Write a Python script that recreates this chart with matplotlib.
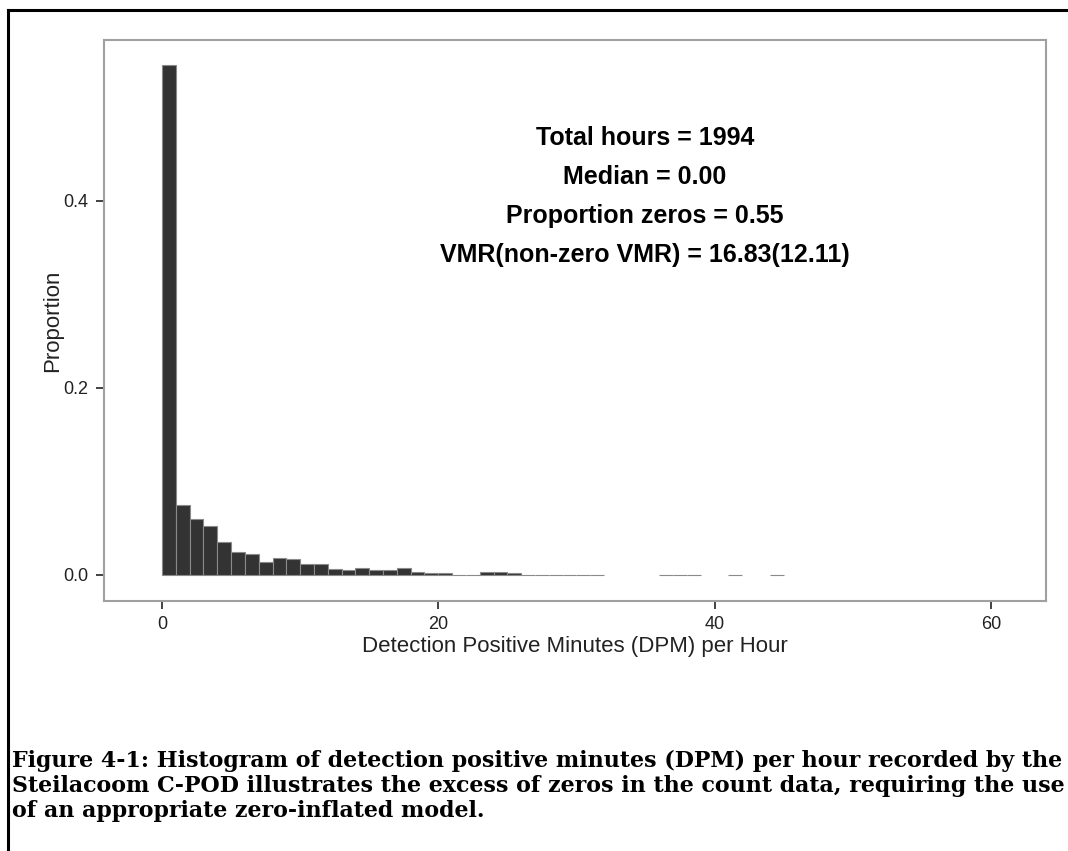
import matplotlib
matplotlib.use("Agg")
import matplotlib.pyplot as plt
from matplotlib.lines import Line2D

# DPM per hour bins (left edges, width 1) and proportions
bin_left = [0, 1, 2, 3, 4, 5, 6, 7, 8, 9, 10, 11, 12, 13, 14, 15, 16, 17, 18, 19,
            20, 21, 22, 23, 24, 25, 26, 27, 28, 29, 30, 31, 36, 37, 38, 41, 44]
proportion = [0.545, 0.075, 0.060, 0.052, 0.035, 0.025, 0.022, 0.014, 0.018, 0.017,
              0.012, 0.012, 0.006, 0.005, 0.008, 0.005, 0.005, 0.007, 0.0035, 0.002,
              0.002, 0.0005, 0.0005, 0.0035, 0.0035, 0.002, 0.0005, 0.0005, 0.0005,
              0.0005, 0.0005, 0.0005, 0.0005, 0.0005, 0.0005, 0.0005, 0.0005]
x_ticks = [0, 20, 40, 60]
y_ticks = [0.0, 0.2, 0.4]
y_tick_labels = ["0.0", "0.2", "0.4"]
stats_lines = ["Total hours = 1994", "Median = 0.00", "Proportion zeros = 0.55",
               "VMR(non-zero VMR) = 16.83(12.11)"]
caption = ("Figure 4-1: Histogram of detection positive minutes (DPM) per hour recorded by the\n"
           "Steilacoom C-POD illustrates the excess of zeros in the count data, requiring the use\n"
           "of an appropriate zero-inflated model.")

W, H = 1068, 851
fig = plt.figure(figsize=(W / 100, H / 100), dpi=100)
fig.patch.set_facecolor("white")

# outer frame (left and top lines)
fig.add_artist(Line2D([8 / W, 8 / W], [0, 1 - 10 / H], color="black", lw=2.2,
                      transform=fig.transFigure))
fig.add_artist(Line2D([8 / W, 1], [1 - 10 / H, 1 - 10 / H], color="black", lw=2.2,
                      transform=fig.transFigure))

ax = fig.add_axes([104 / W, 1 - 601 / H, (1046 - 104) / W, (601 - 40) / H])
ax.bar(bin_left, proportion, width=1, align="edge", color="#333333",
       edgecolor="#8a8a8a", linewidth=0.8)
ax.set_xlim(-4.2, 64.0)
ax.set_ylim(-0.0278, 0.572)

for s in ax.spines.values():
    s.set_color("#a0a0a0")
    s.set_linewidth(1.5)

ax.set_xticks(x_ticks)
ax.set_xticklabels([str(v) for v in x_ticks])
ax.set_yticks(y_ticks)
ax.set_yticklabels(y_tick_labels)
ax.tick_params(direction="out", length=6, width=1.2, color="#222222",
               labelsize=13, labelcolor="#222222", pad=5)
for lab in ax.get_xticklabels() + ax.get_yticklabels():
    lab.set_fontfamily("Liberation Sans")

ax.set_xlabel("Detection Positive Minutes (DPM) per Hour", fontsize=16,
              family="Liberation Sans", color="#222222", labelpad=2)
ax.set_ylabel("Proportion", fontsize=16, family="Liberation Sans",
              color="#222222", labelpad=0)

# statistics text
y0 = 138
for i, line in enumerate(stats_lines):
    fig.text(645 / W, 1 - (y0 + i * 39) / H, line, ha="center", va="center",
             fontsize=18, fontweight="bold", family="Liberation Sans", color="black")

fig.text(12 / W, 1 - 750 / H, caption, ha="left", va="top", fontsize=15.95,
         fontweight="bold", family="DejaVu Serif", linespacing=1.17, color="black")

fig.savefig("out.png", dpi=100, facecolor="white")
